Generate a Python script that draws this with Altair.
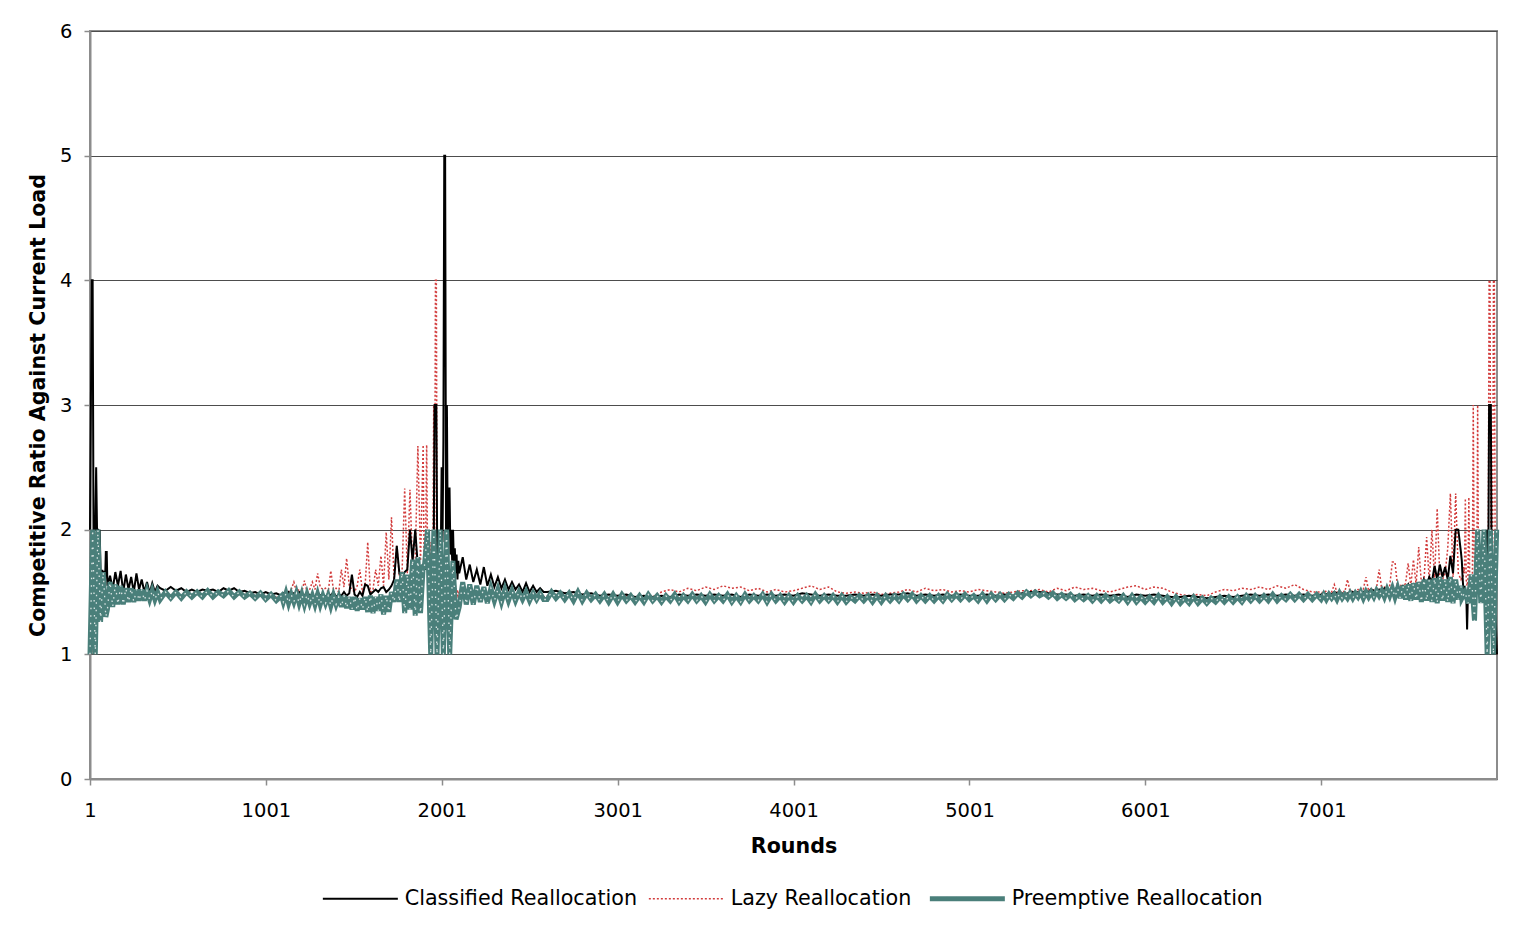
import altair as alt
import pandas as pd

SERIES = ["Classified Reallocation", "Lazy Reallocation", "Preemptive Reallocation"]
COLORS = ["#000000", "#D23C3C", "#4A7F7A"]
X_TICKS = [1, 1001, 2001, 3001, 4001, 5001, 6001, 7001]
Y_TICKS = [0, 1, 2, 3, 4, 5, 6]

# round grids (start, stop, step) of the sampled rounds
GRID_MAIN = [(1, 100, 5), (100, 400, 15), (400, 1100, 30), (1100, 1900, 15), (1900, 2100, 5),
             (2100, 2600, 20), (2600, 7000, 50), (7000, 7800, 15), (7800, 8001, 5)]
GRID_PRE = [(1, 100, 15), (100, 400, 15), (400, 1100, 30), (1100, 1900, 15), (1902, 2100, 18),
            (2100, 2600, 20), (2600, 7000, 25), (7000, 7800, 15), (7800, 8001, 18)]

# ---------------- Classified Reallocation ----------------
cls_s1 = [2.0, 3.0, 4.0, 4.0, 2.0, 2.0, 2.0, 2.5, 2.0, 2.0, 1.67, 2.0, 1.67, 1.67, 1.67, 1.6, 1.67, 1.55, 1.82, 1.82]
cls_s2 = [1.55, 1.63, 1.52, 1.66, 1.55, 1.67, 1.5, 1.64, 1.52, 1.62, 1.5, 1.65, 1.52, 1.6, 1.5, 1.58, 1.49, 1.57, 1.5, 1.55]
cls_s3 = [1.53, 1.51, 1.54, 1.51, 1.53, 1.5, 1.52, 1.5, 1.52, 1.51, 1.52, 1.5, 1.53, 1.51, 1.53, 1.5,
          1.51, 1.49, 1.5, 1.48, 1.5, 1.48, 1.49, 1.47]
cls_s4 = [1.49, 1.47, 1.5, 1.48, 1.49, 1.47, 1.5, 1.48, 1.47, 1.5,
          1.47, 1.48, 1.46, 1.5, 1.47, 1.48, 1.46, 1.49, 1.47, 1.5,
          1.46, 1.48, 1.47, 1.5, 1.47, 1.49, 1.64, 1.48, 1.46, 1.5,
          1.47, 1.56, 1.55, 1.48, 1.5, 1.52, 1.5, 1.53, 1.54, 1.5,
          1.52, 1.55, 1.6, 1.87, 1.65, 1.62, 1.66, 1.68, 2.0, 1.75,
          2.0, 1.7, 1.7, 1.72]
cls_s5 = [1.72, 1.7, 1.68, 1.75, 1.7, 1.8, 1.7, 1.8, 1.75, 1.8,
          1.7, 1.85, 3.0, 3.0, 3.0, 1.8, 1.9, 1.7, 1.8, 1.75,
          2.5, 1.9, 2.7, 5.0, 5.0, 2.0, 3.0, 1.9, 2.33, 2.33,
          1.8, 2.0, 1.75, 2.0, 1.7, 1.85, 1.65, 1.8, 1.6, 1.75]
cls_s6 = [1.65, 1.78, 1.6, 1.72, 1.58, 1.68, 1.56, 1.7, 1.55, 1.64,
          1.54, 1.62, 1.53, 1.6, 1.52, 1.58, 1.52, 1.56, 1.5, 1.57,
          1.5, 1.55, 1.5, 1.53, 1.5]
cls_s7 = [1.5, 1.51, 1.49, 1.5, 1.48, 1.49, 1.47, 1.48, 1.47, 1.48,
          1.46, 1.47, 1.46, 1.47, 1.46, 1.48, 1.47, 1.48, 1.47, 1.48,
          1.47, 1.48, 1.46, 1.48, 1.47, 1.48, 1.47, 1.48, 1.47, 1.49,
          1.48, 1.47, 1.48, 1.47, 1.47, 1.48, 1.47, 1.48, 1.47, 1.48,
          1.48, 1.49, 1.47, 1.48, 1.47, 1.48, 1.47, 1.48, 1.47, 1.47,
          1.48, 1.47, 1.48, 1.47, 1.49, 1.5, 1.5, 1.49, 1.48, 1.48,
          1.47, 1.48, 1.47, 1.48, 1.47, 1.48, 1.46, 1.48, 1.47, 1.48,
          1.47, 1.46, 1.46, 1.47, 1.46, 1.45, 1.46, 1.47, 1.46, 1.47,
          1.48, 1.47, 1.48, 1.47, 1.48, 1.47, 1.48, 1.47]
cls_s8 = [1.48, 1.49, 1.48, 1.49, 1.48, 1.5, 1.49, 1.48, 1.49, 1.48,
          1.49, 1.48, 1.5, 1.49, 1.5, 1.49, 1.5, 1.51, 1.5, 1.52,
          1.51, 1.5, 1.52, 1.51, 1.53, 1.52, 1.51, 1.53, 1.52, 1.54,
          1.53, 1.55, 1.52, 1.56, 1.5, 1.55, 1.44, 1.58, 1.45, 1.6,
          1.56, 1.62, 1.58, 1.71, 1.6, 1.72, 1.62, 1.7, 1.6, 1.79,
          1.65, 2.0, 2.0, 1.82]
cls_s9 = [1.75, 1.6, 1.5, 1.55, 1.45, 1.5, 1.2, 1.5, 1.55, 1.45,
          1.5, 1.5, 1.55, 1.45, 1.5, 1.55, 1.5, 1.6, 1.5, 1.55,
          1.6, 1.5, 1.55, 1.6, 1.5, 1.65, 1.55, 1.6, 2.0, 1.27,
          1.5, 3.0, 3.0, 3.0, 1.5, 1.6, 1.5, 1.4, 1.5, 1.2, 1.0]

# ---------------- Lazy Reallocation ----------------
lazy_s1 = [1.0, 2.0, 1.0, 2.0, 1.0, 2.0, 1.0, 2.0, 1.2, 1.6, 1.3, 1.55, 1.35, 1.55, 1.4, 1.55, 1.4, 1.55, 1.42, 1.52]
lazy_s2 = [1.5, 1.45, 1.52, 1.46, 1.5, 1.47, 1.5, 1.46, 1.49, 1.47, 1.49, 1.46, 1.49, 1.47, 1.48, 1.46, 1.48, 1.47, 1.48, 1.47]
lazy_s3 = [1.47, 1.49, 1.47, 1.49, 1.47, 1.48, 1.47, 1.49, 1.48, 1.49, 1.48, 1.48, 1.49, 1.49, 1.48, 1.48,
           1.48, 1.47, 1.47, 1.47, 1.47, 1.46, 1.46, 1.46]
lazy_s4 = [1.49, 1.5, 1.5, 1.52, 1.58, 1.5, 1.52, 1.5, 1.59, 1.5,
           1.52, 1.58, 1.52, 1.65, 1.54, 1.52, 1.53, 1.5, 1.67, 1.52,
           1.53, 1.5, 1.68, 1.54, 1.77, 1.55, 1.52, 1.5, 1.55, 1.68,
           1.5, 1.55, 1.9, 1.5, 1.52, 1.68, 1.55, 1.79, 1.55, 1.98,
           1.6, 2.1, 1.6, 1.87, 1.62, 1.65, 2.33, 1.65, 2.32, 1.7,
           1.75, 2.67, 1.75, 2.68]
lazy_s5 = [1.8, 1.9, 2.0, 2.68, 1.8, 1.7, 1.9, 1.6, 1.9, 1.7,
           1.8, 3.0, 1.7, 4.0, 4.0, 1.5, 1.8, 1.4, 1.7, 1.5,
           1.8, 1.4, 1.6, 1.5, 1.7, 1.4, 1.6, 1.5, 1.6, 1.45,
           1.6, 1.45, 1.58, 1.45, 1.55, 1.45, 1.55, 1.45, 1.52, 1.45]
lazy_s6 = [1.5, 1.55, 1.48, 1.55, 1.48, 1.53, 1.47, 1.53, 1.48, 1.52,
           1.47, 1.52, 1.47, 1.51, 1.47, 1.5, 1.47, 1.5, 1.47, 1.49,
           1.47, 1.48, 1.47, 1.48, 1.46]
lazy_s7 = [1.47, 1.48, 1.47, 1.48, 1.46, 1.47, 1.46, 1.47, 1.46, 1.47,
           1.45, 1.46, 1.46, 1.5, 1.52, 1.5, 1.53, 1.51, 1.54, 1.52,
           1.55, 1.53, 1.54, 1.51, 1.53, 1.5, 1.52, 1.5, 1.51, 1.53,
           1.55, 1.52, 1.54, 1.5, 1.49, 1.5, 1.49, 1.5, 1.48, 1.49,
           1.5, 1.52, 1.5, 1.53, 1.51, 1.52, 1.5, 1.51, 1.5, 1.52,
           1.51, 1.5, 1.49, 1.5, 1.51, 1.51, 1.52, 1.5, 1.53, 1.51,
           1.54, 1.52, 1.53, 1.51, 1.5, 1.52, 1.54, 1.55, 1.52, 1.54,
           1.53, 1.5, 1.48, 1.47, 1.48, 1.47, 1.5, 1.52, 1.51, 1.53,
           1.52, 1.54, 1.52, 1.55, 1.53, 1.56, 1.52, 1.5]
lazy_s8 = [1.5, 1.49, 1.51, 1.49, 1.5, 1.56, 1.5, 1.49, 1.51, 1.5,
           1.6, 1.5, 1.51, 1.5, 1.52, 1.5, 1.52, 1.62, 1.51, 1.53,
           1.51, 1.53, 1.68, 1.52, 1.54, 1.52, 1.55, 1.74, 1.74, 1.54,
           1.56, 1.53, 1.57, 1.73, 1.55, 1.76, 1.56, 1.86, 1.57, 1.6,
           1.94, 1.58, 2.0, 1.6, 2.17, 1.62, 1.6, 1.65, 1.85, 2.29,
           1.62, 2.29, 1.65, 1.6]
lazy_s9 = [1.62, 1.6, 1.7, 1.65, 2.25, 1.6, 1.55, 1.6, 2.26, 1.6,
           1.5, 1.55, 1.6, 3.0, 1.8, 1.6, 1.7, 1.6, 3.0, 1.6,
           1.55, 1.6, 1.5, 1.6, 1.55, 1.7, 1.6, 1.8, 1.5, 1.6,
           1.8, 4.0, 4.0, 2.0, 1.5, 1.8, 4.0, 4.0, 1.5, 1.2, 1.0]

# ---------------- Preemptive Reallocation ----------------
pre_s1 = [1.0, 2.0, 1.0, 2.0, 1.26, 1.66, 1.3]
pre_s2 = [1.36, 1.58, 1.38, 1.56, 1.4, 1.55, 1.4, 1.53, 1.42, 1.53, 1.42, 1.52, 1.43, 1.52, 1.43, 1.51, 1.44, 1.51, 1.44, 1.5]
pre_s3 = [1.44, 1.5, 1.45, 1.5, 1.45, 1.5, 1.46, 1.5, 1.46, 1.51, 1.46, 1.5, 1.47, 1.51, 1.46, 1.5,
          1.46, 1.49, 1.45, 1.49, 1.44, 1.48, 1.43, 1.47]
pre_s4 = [1.42, 1.49, 1.41, 1.48, 1.42, 1.49, 1.41, 1.48, 1.4, 1.48,
          1.41, 1.47, 1.4, 1.48, 1.4, 1.47, 1.41, 1.47, 1.39, 1.47,
          1.4, 1.46, 1.38, 1.47, 1.37, 1.46, 1.36, 1.46, 1.35, 1.45,
          1.36, 1.46, 1.34, 1.47, 1.33, 1.46, 1.35, 1.48, 1.32, 1.47,
          1.34, 1.5, 1.42, 1.6, 1.42, 1.66, 1.33, 1.64, 1.36, 1.76,
          1.31, 1.78, 1.33, 1.7]
pre_s5 = [1.7, 2.0, 1.0, 2.0, 1.0, 2.0, 1.0, 2.0, 1.0, 1.75, 1.28]
pre_s6 = [1.38, 1.58, 1.4, 1.56, 1.4, 1.55, 1.42, 1.54, 1.41, 1.53,
          1.43, 1.52, 1.42, 1.52, 1.43, 1.51, 1.43, 1.5, 1.44, 1.5,
          1.43, 1.49, 1.44, 1.49, 1.44]
pre_s7 = [1.44, 1.5, 1.45, 1.49, 1.44, 1.49, 1.43, 1.5,
          1.43, 1.49, 1.44, 1.48, 1.43, 1.48, 1.42, 1.48,
          1.42, 1.48, 1.43, 1.47, 1.42, 1.47, 1.42, 1.48,
          1.43, 1.47, 1.42, 1.47, 1.43, 1.48, 1.42, 1.47,
          1.43, 1.48, 1.43, 1.47, 1.42, 1.48, 1.43, 1.47,
          1.43, 1.48, 1.42, 1.47, 1.42, 1.48, 1.43, 1.47,
          1.43, 1.48, 1.42, 1.48, 1.43, 1.47, 1.42, 1.47,
          1.42, 1.47, 1.43, 1.47, 1.42, 1.48, 1.43, 1.47,
          1.43, 1.47, 1.42, 1.47, 1.42, 1.46, 1.43, 1.47,
          1.43, 1.47, 1.42, 1.47, 1.42, 1.47, 1.43, 1.47,
          1.43, 1.48, 1.44, 1.48, 1.43, 1.47, 1.43, 1.47,
          1.43, 1.47, 1.43, 1.48, 1.44, 1.48, 1.44, 1.48,
          1.44, 1.47, 1.43, 1.48, 1.43, 1.48, 1.44, 1.48,
          1.44, 1.48, 1.45, 1.49, 1.46, 1.5, 1.47, 1.5,
          1.47, 1.49, 1.46, 1.49, 1.45, 1.48, 1.45, 1.48,
          1.44, 1.47, 1.44, 1.47, 1.43, 1.47, 1.43, 1.47,
          1.43, 1.46, 1.43, 1.47, 1.42, 1.47, 1.42, 1.46,
          1.42, 1.46, 1.42, 1.47, 1.42, 1.46, 1.41, 1.46,
          1.41, 1.45, 1.41, 1.46, 1.41, 1.45, 1.41, 1.45,
          1.42, 1.46, 1.42, 1.46, 1.42, 1.46, 1.42, 1.47,
          1.43, 1.47, 1.43, 1.47, 1.43, 1.48, 1.43, 1.47,
          1.44, 1.48, 1.44, 1.48, 1.44, 1.48, 1.44, 1.48]
pre_s8 = [1.44, 1.48, 1.44, 1.48, 1.45, 1.48, 1.44, 1.49, 1.45, 1.48,
          1.45, 1.49, 1.45, 1.49, 1.46, 1.5, 1.45, 1.5, 1.46, 1.5,
          1.46, 1.51, 1.47, 1.51, 1.46, 1.52, 1.47, 1.53, 1.46, 1.53,
          1.45, 1.55, 1.44, 1.56, 1.43, 1.57, 1.44, 1.58, 1.42, 1.6,
          1.43, 1.6, 1.42, 1.61, 1.41, 1.62, 1.43, 1.6, 1.42, 1.62,
          1.41, 1.6, 1.44, 1.55]
pre_s9 = [1.45, 1.5, 1.41, 1.64, 1.27, 2.0, 1.41, 2.0, 1.0, 2.0, 1.0, 2.0]


def series_frame(grid, parts, name):
    rounds = []
    for start, stop, step in grid:
        rounds += list(range(start, stop, step))
    values = [v for part in parts for v in part]
    assert len(rounds) == len(values), (name, len(rounds), len(values))
    return pd.DataFrame({"round": rounds, "value": values, "series": name})


data = pd.concat([
    series_frame(GRID_MAIN, [cls_s1, cls_s2, cls_s3, cls_s4, cls_s5, cls_s6, cls_s7, cls_s8, cls_s9], SERIES[0]),
    series_frame(GRID_MAIN, [lazy_s1, lazy_s2, lazy_s3, lazy_s4, lazy_s5, lazy_s6, lazy_s7, lazy_s8, lazy_s9], SERIES[1]),
    series_frame(GRID_PRE, [pre_s1, pre_s2, pre_s3, pre_s4, pre_s5, pre_s6, pre_s7, pre_s8, pre_s9], SERIES[2]),
], ignore_index=True)

FONT = "DejaVu Sans"

x_enc = alt.X("round:Q",
              scale=alt.Scale(domain=[1, 8000], nice=False, zero=False),
              axis=alt.Axis(values=X_TICKS, title="Rounds", grid=False, format="d",
                            labelPadding=16, titlePadding=17, tickSize=6, labelFlush=False,
                            labelFont=FONT, labelFontSize=19.5, labelColor="#000000",
                            titleFont=FONT, titleFontSize=20.6, titleFontWeight="bold", titleColor="#000000",
                            domainColor="#8c8c8c", domainWidth=2, tickColor="#8c8c8c", tickWidth=1.5))
y_enc = alt.Y("value:Q",
              scale=alt.Scale(domain=[0, 6], nice=False, zero=True),
              axis=alt.Axis(values=Y_TICKS, title="Competitive Ratio Against Current Load",
                            grid=True, labelPadding=12, titlePadding=11, tickSize=6,
                            labelFont=FONT, labelFontSize=19.5, labelColor="#000000",
                            titleFont=FONT, titleFontSize=20.6, titleFontWeight="bold", titleColor="#000000",
                            domainColor="#8c8c8c", domainWidth=2, tickColor="#8c8c8c", tickWidth=1.5,
                            gridColor="#4d4d4d", gridWidth=1.2))
color_enc = alt.Color(
    "series:N",
    scale=alt.Scale(domain=SERIES, range=COLORS),
    legend=alt.Legend(
        title=None, orient="none", legendX=260, legendY=857, direction="horizontal",
        symbolType="stroke", symbolSize=5625,
        symbolStrokeWidth=alt.ExprRef(expr="datum.value === 'Preemptive Reallocation' ? 5 : (datum.value === 'Lazy Reallocation' ? 1.5 : 2)"),
        symbolDash=alt.ExprRef(expr="datum.value === 'Lazy Reallocation' ? [2, 2] : [1, 0]"),
        labelFont=FONT, labelFontSize=20.7, labelColor="#000000", labelOffset=34,
        columnPadding=7, padding=0, labelLimit=500,
    ),
)

base = alt.Chart(data)

lazy = base.transform_filter(alt.datum.series == SERIES[1]).mark_line(
    strokeWidth=1.5, strokeDash=[2, 2], interpolate="linear"
).encode(x=x_enc, y=y_enc, color=color_enc)

classified = base.transform_filter(alt.datum.series == SERIES[0]).mark_line(
    strokeWidth=2, interpolate="linear"
).encode(x=x_enc, y=y_enc, color=color_enc)

preemptive = base.transform_filter(alt.datum.series == SERIES[2]).mark_line(
    strokeWidth=5, interpolate="linear"
).encode(x=x_enc, y=y_enc, color=color_enc)

pre_dots = base.transform_filter(alt.datum.series == SERIES[2]).mark_line(
    strokeWidth=1.3, strokeDash=[1.5, 6], color="#ffffff", opacity=0.8
).encode(x=x_enc, y=y_enc)

chart = alt.layer(lazy, classified, preemptive, pre_dots).properties(
    width=1407, height=748, autosize="none",
    padding={"left": 82, "top": 23, "right": 25, "bottom": 130},
).configure_view(
    stroke="#8c8c8c", strokeWidth=2, fill="#ffffff"
)

chart.save("out.html", embed_options={"renderer": "svg", "actions": False})
